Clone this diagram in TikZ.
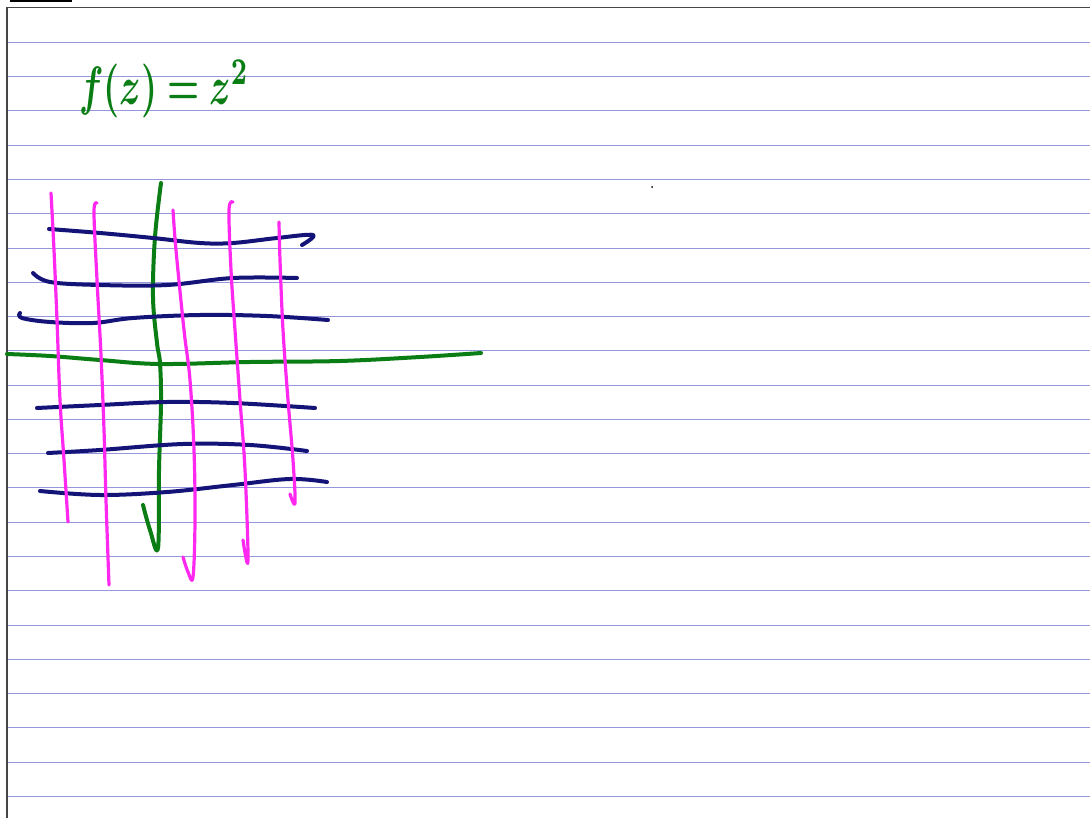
\documentclass[tikz,border=0pt]{standalone}
\usepackage{graphicx}
\usepackage{xcolor}
\usepackage{amsmath}
\usepackage{bm}
\definecolor{rule}{RGB}{150,150,220}
\definecolor{ink}{RGB}{20,20,120}
\definecolor{pink}{RGB}{255,40,240}
\definecolor{grn}{RGB}{10,125,20}
\definecolor{frame}{RGB}{70,70,70}
\begin{document}
\begin{tikzpicture}[x=1pt,y=-1pt,
  ruleline/.style={draw=rule,line width=0.9pt},
  pinkstroke/.style={draw=pink,line width=3.2pt,line cap=round,line join=round},
  navystroke/.style={draw=ink,line width=4pt,line cap=round,line join=round},
  greenstroke/.style={draw=grn,line width=4pt,line cap=round,line join=round}]
\useasboundingbox (0,0) rectangle (1090,818);
\fill[white] (0,0) rectangle (1090,818);
% ruled lines
\foreach \k in {1,...,23}{
  \draw[ruleline] (8,{8+34.28*\k}) -- (1090,{8+34.28*\k});
}
% frame
\draw[frame,line width=1.6pt] (7,818) -- (7,7.5) -- (1090,7.5);
\fill[black] (10,0) rectangle (72,2);
% dot
\fill[black] (652,187) circle (1pt);
% title
\node[text=grn,inner sep=0pt] (title) at (164,89) {\scalebox{3.6}[5.4]{$\bm{f(z)=z^2}$}};
% green axes
\draw[greenstroke] plot[smooth,tension=0.6] coordinates {(7,354) (50,356) (100,360) (160,364) (250,362) (340,361) (420,357) (481,353)};
\draw[greenstroke] plot[smooth,tension=0.6] coordinates {(161,183) (155,237) (153,297) (157,343) (160,363) (161,403) (159,470) (158,548) (150,530) (143,505)};
% navy horizontals
\draw[navystroke] plot[smooth,tension=0.6] coordinates {(49,229) (100,233) (153,238) (200,243) (233,243) (277,238) (313,235) (302,245)};
\draw[navystroke] plot[smooth,tension=0.6] coordinates {(33,273) (50,282) (100,285) (167,285) (233,278) (297,278)};
\draw[navystroke] plot[smooth,tension=0.6] coordinates {(20,313) (22,318) (50,322) (93,323) (133,318) (200,315) (267,316) (328,320)};
\draw[navystroke] plot[smooth,tension=0.6] coordinates {(37,408) (100,405) (167,402) (233,403) (315,408)};
\draw[navystroke] plot[smooth,tension=0.6] coordinates {(48,453) (100,450) (183,444) (250,445) (307,451)};
\draw[navystroke] plot[smooth,tension=0.6] coordinates {(40,491) (100,495) (167,492) (233,485) (290,479) (327,482)};
% magenta verticals
\draw[pinkstroke] plot[smooth,tension=0.6] coordinates {(51,193) (54,250) (57,320) (60,400) (64,460) (68,522)};
\draw[pinkstroke] plot[smooth,tension=0.6] coordinates {(97,203) (94,212) (97,280) (101,355) (104,430) (106,500) (109,585)};
\draw[pinkstroke] plot[smooth,tension=0.6] coordinates {(173,210) (176,250) (184,330) (190,380) (194,450) (195,520) (193,577) (188,572) (183,557)};
\draw[pinkstroke] plot[smooth,tension=0.6] coordinates {(233,202) (229,210) (231,270) (235,330) (240,400) (245,470) (248,561) (243,540)};
\draw[pinkstroke] plot[smooth,tension=0.6] coordinates {(279,222) (280,260) (283,330) (288,400) (293,460) (295,503) (290,494)};
\end{tikzpicture}
\end{document}
